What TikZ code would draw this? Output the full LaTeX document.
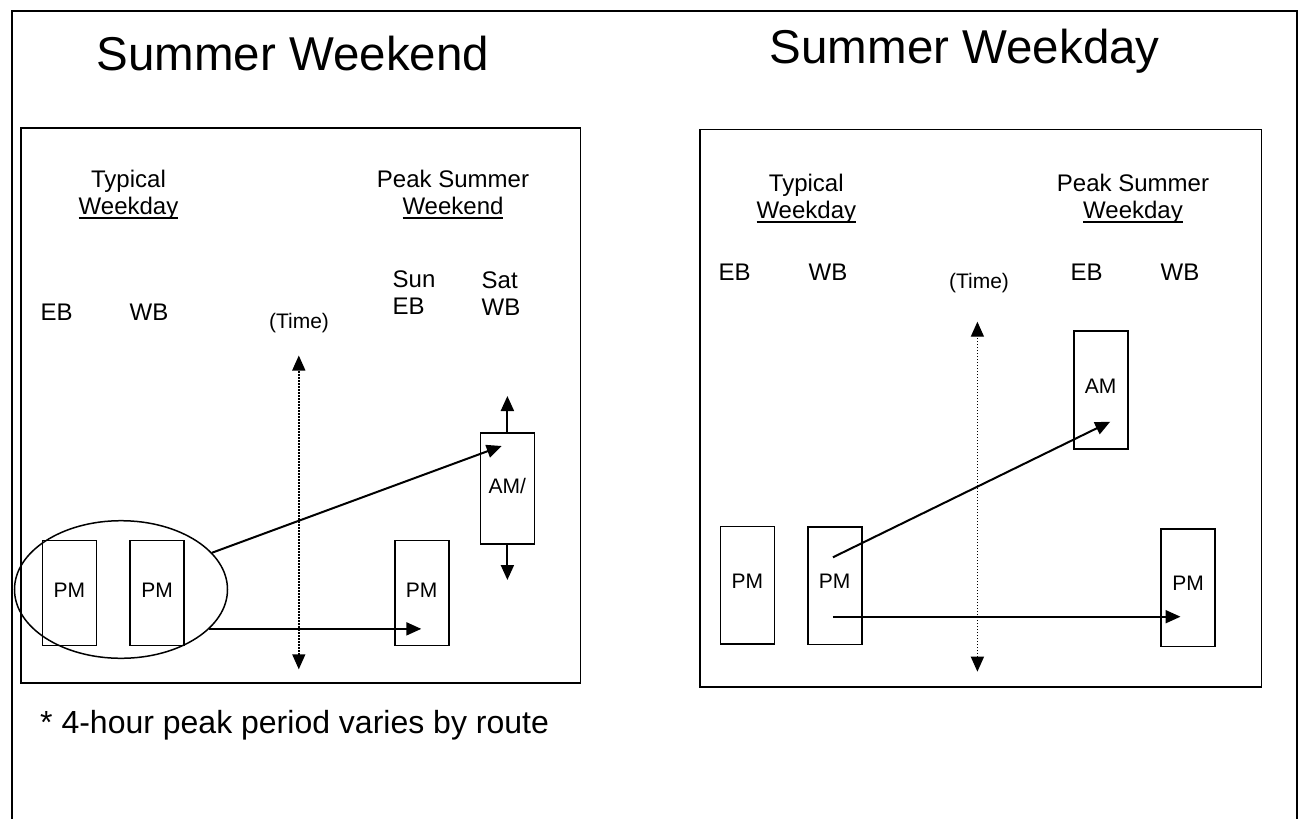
\documentclass[tikz,border=0pt]{standalone}
\usepackage{fontspec}
\setmainfont{Liberation Sans}
\usetikzlibrary{shapes.geometric,arrows.meta,calc}
\def\myul#1{\setbox0\hbox{#1}\rlap{\vrule height -3pt depth 5pt width \wd0}\box0}
\begin{document}
\begin{tikzpicture}[x=1pt,y=-1pt,
  frame/.style={line width=2pt},
  panel/.style={draw,line width=1.8pt},
  ttl/.style={font=\fontsize{47.5}{52}\selectfont,inner sep=0pt,anchor=base},
  lbl/.style={font=\fontsize{24}{27}\selectfont,inner sep=0pt,anchor=base},
  lblw/.style={font=\fontsize{24}{27}\selectfont,inner sep=0pt,anchor=base west},
  tlbl/.style={font=\fontsize{21}{24}\selectfont,inner sep=0pt,anchor=base},
  note/.style={font=\fontsize{32}{36}\selectfont,inner sep=0pt,anchor=base west},
  bar/.style={draw,line width=1.6pt,inner sep=0pt,minimum width=54pt,font=\fontsize{21}{24}\selectfont},
  conn/.style={line width=2pt,-{Triangle[length=15pt,width=13pt]}},
  timeln/.style={line width=1.4pt,dash pattern=on 1.5pt off 1.5pt,
    {Triangle[length=15pt,width=13pt]}-{Triangle[length=15pt,width=13pt]}}
]
\useasboundingbox (0,0) rectangle (1299,819);
% outer frame
\draw[frame] (12,819) -- (12,11) -- (1297,11) -- (1297,819);

% titles
\node[ttl] (title1) at (293,70) {Summer Weekend};
\node[ttl] (title2) at (964.7,63.5) {Summer Weekday};

% ---------------- left panel ----------------
\draw[panel] (21,128.3) rectangle (580.5,682.7);
\node[lbl] (lt1) at (128.5,187.3) {Typical};
\node[lbl] (lt2) at (128.5,214.3) {\myul{Weekday}};
\node[lbl] (lp1) at (453,187.3) {Peak Summer};
\node[lbl] (lp2) at (453,214.3) {\myul{Weekend}};
\node[lbl] (leb) at (56.6,320.7) {EB};
\node[lbl] (lwb) at (149,320.7) {WB};
\node[tlbl] (ltime) at (299,328.5) {(Time)};
\node[lblw] (lsun) at (392.5,287.7) {Sun};
\node[lblw] (lseb) at (392.5,314.3) {EB};
\node[lblw] (lsat) at (481.5,288.3) {Sat};
\node[lblw] (lswb) at (481.5,315.7) {WB};

\node[bar,minimum height=105pt,text depth=6pt] (lb1) at (69.3,593) {PM};
\node[bar,minimum height=105pt,text depth=6pt] (lb2) at (157.2,593) {PM};
\node[bar,minimum height=105pt,text depth=6pt] (lb3) at (421.7,593) {PM};
\node[bar,minimum height=111.3pt,text depth=5pt] (lb4) at (507.4,488.4) {AM/};

\node[draw,line width=1.5pt,ellipse,inner sep=0pt,minimum width=213pt,minimum height=137.6pt] (ell) at (121,589.5) {};

\coordinate (ltA) at (501.7,446);
\coordinate (ltB) at (421.3,629.3);
\coordinate (satup) at (507.4,396);
\coordinate (satdn) at (507.4,580);
\coordinate (ltimeT) at (298.8,355.5);
\coordinate (ltimeB) at (298.8,669.3);

\draw[timeln] (ltimeB) -- (ltimeT);
\draw[conn] (ell.22) -- (ltA);
\draw[conn] (ell.-24.6) -- (ell.-24.6 -| ltB);
\draw[conn] (lb4.north) -- (satup);
\draw[conn] (lb4.south) -- (satdn);

\node[note] (foot) at (40,733) {* 4-hour peak period varies by route};

% ---------------- right panel ----------------
\draw[panel] (699.7,129.5) rectangle (1261.5,687.3);
\node[lbl] (rt1) at (806.3,191.7) {Typical};
\node[lbl] (rt2) at (806.3,218.3) {\myul{Weekday}};
\node[lbl] (rp1) at (1133,191.7) {Peak Summer};
\node[lbl] (rp2) at (1133,218.3) {\myul{Weekday}};
\node[lbl] (reb) at (734.7,280) {EB};
\node[lbl] (rwb) at (828,280) {WB};
\node[tlbl] (rtime) at (979,288) {(Time)};
\node[lbl] (rpeb) at (1086.5,280) {EB};
\node[lbl] (rpwb) at (1180,280) {WB};

\node[bar,minimum height=117.3pt,text depth=9pt] (rb1) at (747.3,585.3) {PM};
\node[bar,minimum height=117.6pt,text depth=9pt] (rb2) at (834.7,585.5) {PM};
\node[bar,minimum height=117.7pt,text depth=9pt] (rb3) at (1188,587.8) {PM};
\node[bar,minimum height=118pt,text depth=8pt] (rb4) at (1100.7,390) {AM};

\coordinate (rsA) at (832.9,557.3);
\coordinate (rtA) at (1110.2,421.7);
\coordinate (rsB) at (832.9,616.7);
\coordinate (rtB) at (1180.5,616.7);
\coordinate (rtimeT) at (977.4,321.7);
\coordinate (rtimeB) at (977.4,671.7);

\draw[timeln] (rtimeB) -- (rtimeT);
\draw[conn] (rsA) -- (rtA);
\draw[conn] (rsB) -- (rtB);
\end{tikzpicture}
\end{document}
